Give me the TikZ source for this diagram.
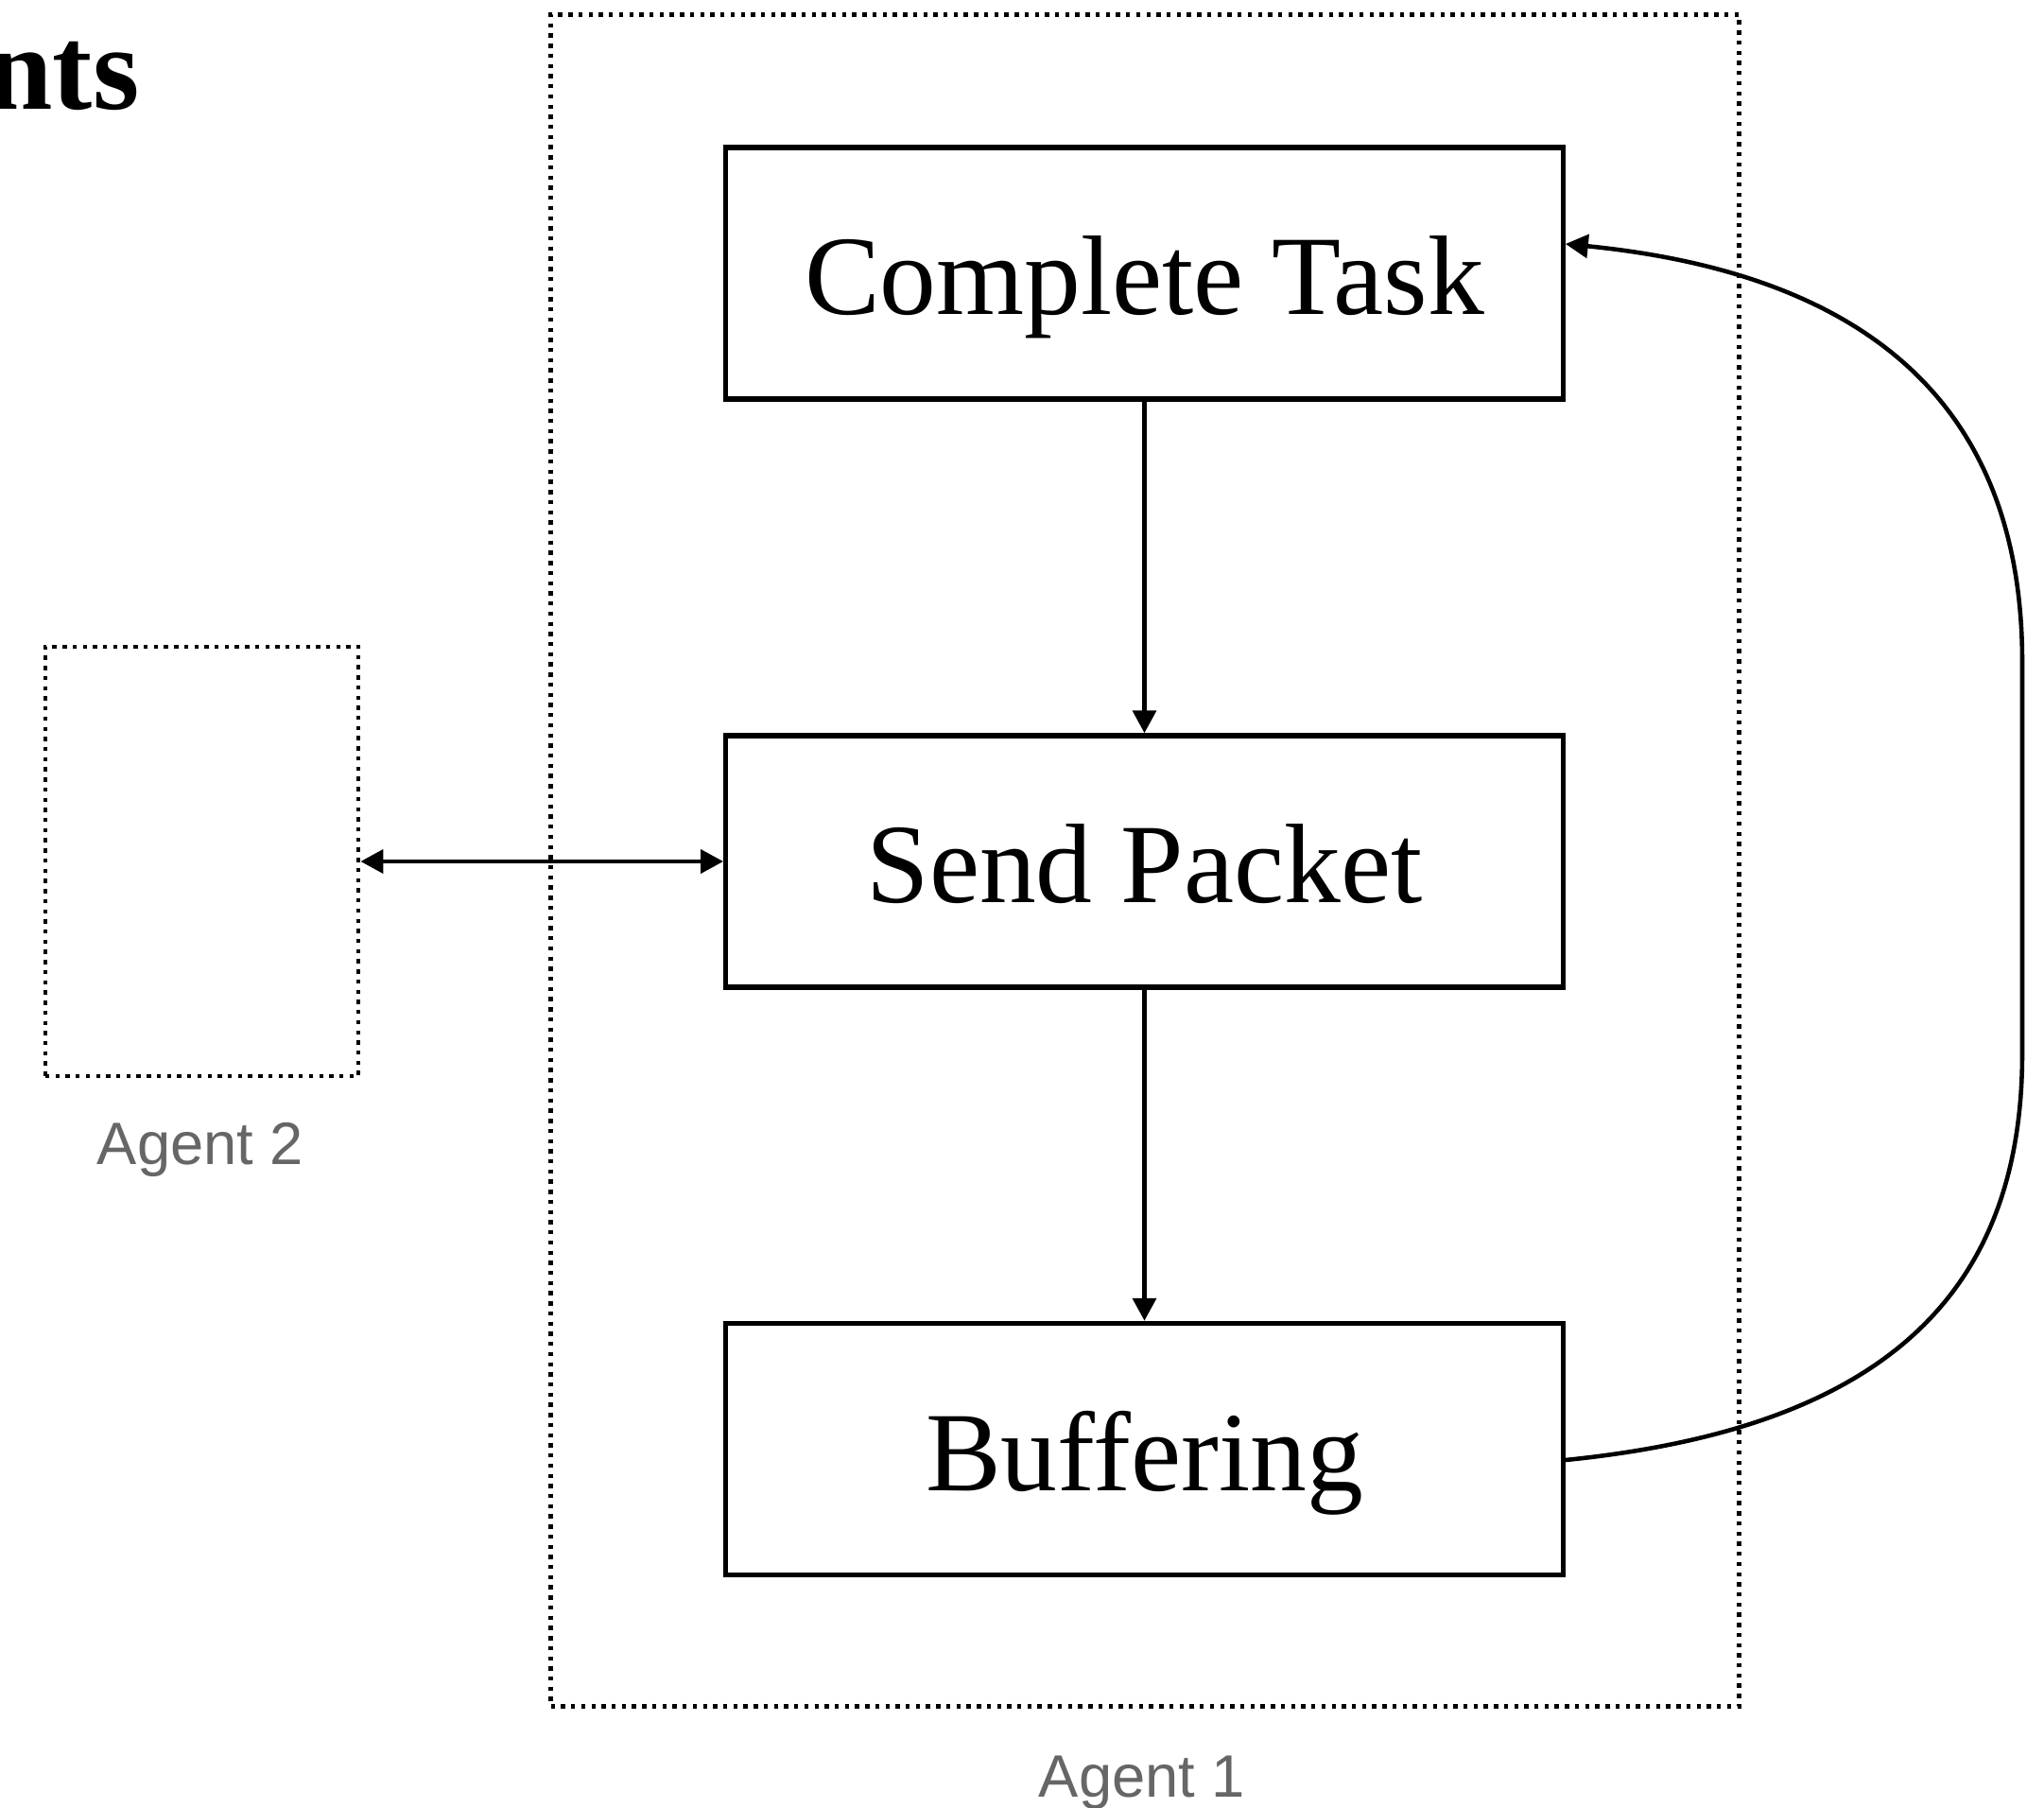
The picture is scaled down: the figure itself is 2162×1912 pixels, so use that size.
\documentclass[tikz,border=0pt]{standalone}
\usepackage{fontspec}
\setmainfont{Liberation Serif}
\newfontfamily\labelfont{Liberation Sans}
\usetikzlibrary{arrows.meta}
\definecolor{labelgray}{RGB}{102,102,102}
\tikzset{
  stepbox/.style={draw, line width=1.5pt, inner sep=0pt,
    minimum width=8.85cm, minimum height=2.66cm,
    text height=25pt, text depth=0pt, font=\fontsize{34}{40}\selectfont},
  dotbox/.style={draw, line width=1.3pt, dash pattern=on 1.25pt off 1.8pt,
    inner sep=0pt},
  agentlabel/.style={anchor=base, inner sep=0pt, text=labelgray,
    font=\labelfont\fontsize{18}{22}\selectfont},
  flow/.style={line width=1.3pt, -{Triangle[length=6.8pt,width=7pt]}},
  twoway/.style={line width=1.3pt, {Triangle[length=6.8pt,width=7pt]}-{Triangle[length=6.8pt,width=7pt]}}
}
\begin{document}
\begin{tikzpicture}[x=0.01cm, y=-0.01cm]
\useasboundingbox (0,0) rectangle (2162,1912);
\clip (0,0) rectangle (2162,1912);

% heading fragment, running off the left edge
\node[anchor=base east, inner sep=0pt, font=\bfseries\fontsize{36}{40}\selectfont] (heading) at (148,115) {nts};

% agent containers
\node[dotbox, minimum width=12.56cm, minimum height=17.88cm] (agentone) at (1211,910) {};
\node[dotbox, minimum width=3.31cm, minimum height=4.54cm] (agenttwo) at (213.5,911) {};
\node[agentlabel] (agentonelabel) at (1208,1900) {Agent 1};
\node[agentlabel] (agenttwolabel) at (212,1231) {Agent 2};

% process steps
\node[stepbox] (ct) at (1210.5,289) {Complete Task};
\node[stepbox] (sp) at (1210.5,911) {Send Packet};
\node[stepbox] (buf) at (1210.5,1532.5) {Buffering};

% connectors
\draw[flow] (ct) -- (sp);
\draw[flow] (sp) -- (buf);
\draw[twoway] (agenttwo.east) -- (sp.west);

% feedback loop from buffering back to the task
\coordinate (loopout) at ([yshift=-3.27pt]buf.east);
\coordinate (loopin) at ([yshift=8.82pt]ct.east);
\coordinate (turnlow) at (2139,1114);
\coordinate (turnhigh) at (2139,700);
\draw[flow] (loopout) .. controls (1973,1512) and (2139,1384) .. (turnlow)
  -- (turnhigh) .. controls (2139,430) and (1977,290) .. (loopin);
\end{tikzpicture}
\end{document}
